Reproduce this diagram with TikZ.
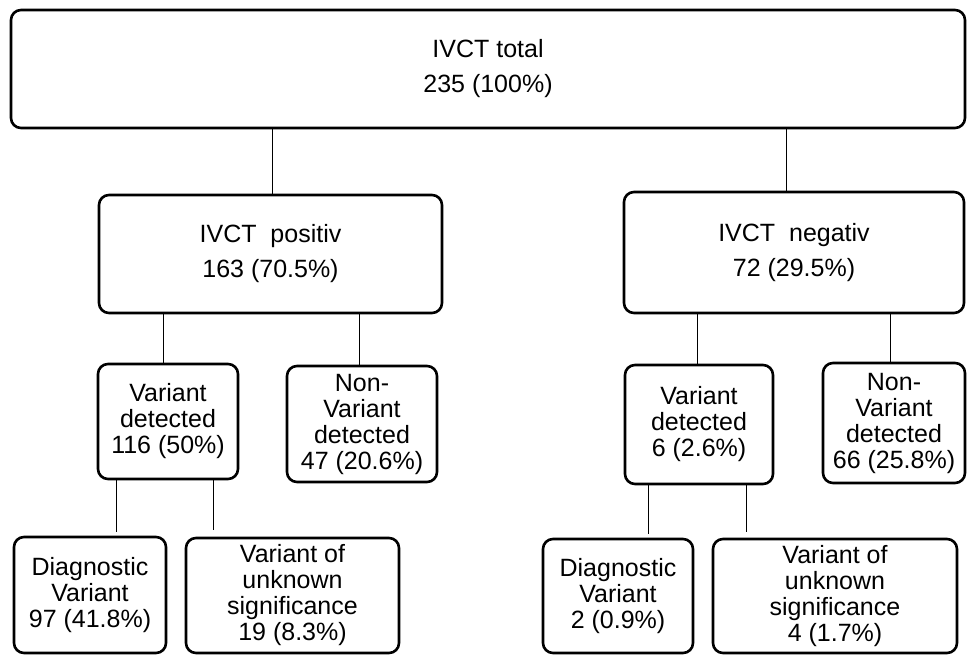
\documentclass[tikz,border=0pt]{standalone}
\usepackage{fontspec}
\setmainfont{Liberation Sans}
\begin{document}
\begin{tikzpicture}[x=1pt,y=-1pt,
  box/.style={draw,line width=2.6pt,rounded corners=10pt,align=center,inner sep=0pt,
    font=\fontsize{25}{26}\selectfont},
  bigbox/.style={box,font=\fontsize{25}{35}\selectfont},
  conn/.style={line width=1pt}]
\useasboundingbox (0,0) rectangle (967,656);
\node[bigbox,minimum width=954pt,minimum height=118pt] (top) at (488,69) {IVCT total\\235 (100\%)};
\node[bigbox,minimum width=343pt,minimum height=118pt] (pos) at (270.5,254) {IVCT\ \ positiv\\163 (70.5\%)};
\node[bigbox,minimum width=340pt,minimum height=121pt] (neg) at (794,252.5) {IVCT\ \ negativ\\72 (29.5\%)};
\node[box,minimum width=140pt,minimum height=115pt] (vdL) at (168,421.5) {Variant\\detected\\116 (50\%)};
\node[box,minimum width=150pt,minimum height=116pt] (nvL) at (362,424) {Non-\\Variant\\detected\\47 (20.6\%)};
\node[box,minimum width=148pt,minimum height=119pt] (vdR) at (699,424.5) {Variant\\detected\\6 (2.6\%)};
\node[box,minimum width=142pt,minimum height=120pt] (nvR) at (894,423) {Non-\\Variant\\detected\\66 (25.8\%)};
\node[box,minimum width=152pt,minimum height=116pt] (diagL) at (90,595) {Diagnostic\\Variant\\97 (41.8\%)};
\node[box,minimum width=213pt,minimum height=115pt] (vusL) at (292.5,595.5) {Variant of\\unknown\\significance\\19 (8.3\%)};
\node[box,minimum width=150pt,minimum height=114pt] (diagR) at (618,596) {Diagnostic\\Variant\\2 (0.9\%)};
\node[box,minimum width=244pt,minimum height=114pt] (vusR) at (835,596) {Variant of\\unknown\\significance\\4 (1.7\%)};
\draw[conn] (top.south -| 272,0) -- (pos.north -| 272,0);
\draw[conn] (top.south -| 786,0) -- (neg.north -| 786,0);
\draw[conn] (pos.south -| 163,0) -- (vdL.north -| 163,0);
\draw[conn] (pos.south -| 359,0) -- (nvL.north -| 359,0);
\draw[conn] (neg.south -| 697,0) -- (vdR.north -| 697,0);
\draw[conn] (neg.south -| 890,0) -- (nvR.north -| 890,0);
\draw[conn,shorten >=4pt] (vdL.south -| 116,0) -- (diagL.north -| 116,0);
\draw[conn,shorten >=7pt] (vdL.south -| 213,0) -- (vusL.north -| 213,0);
\draw[conn,shorten >=4pt] (vdR.south -| 648,0) -- (diagR.north -| 648,0);
\draw[conn,shorten >=6pt] (vdR.south -| 746,0) -- (vusR.north -| 746,0);
\end{tikzpicture}
\end{document}
